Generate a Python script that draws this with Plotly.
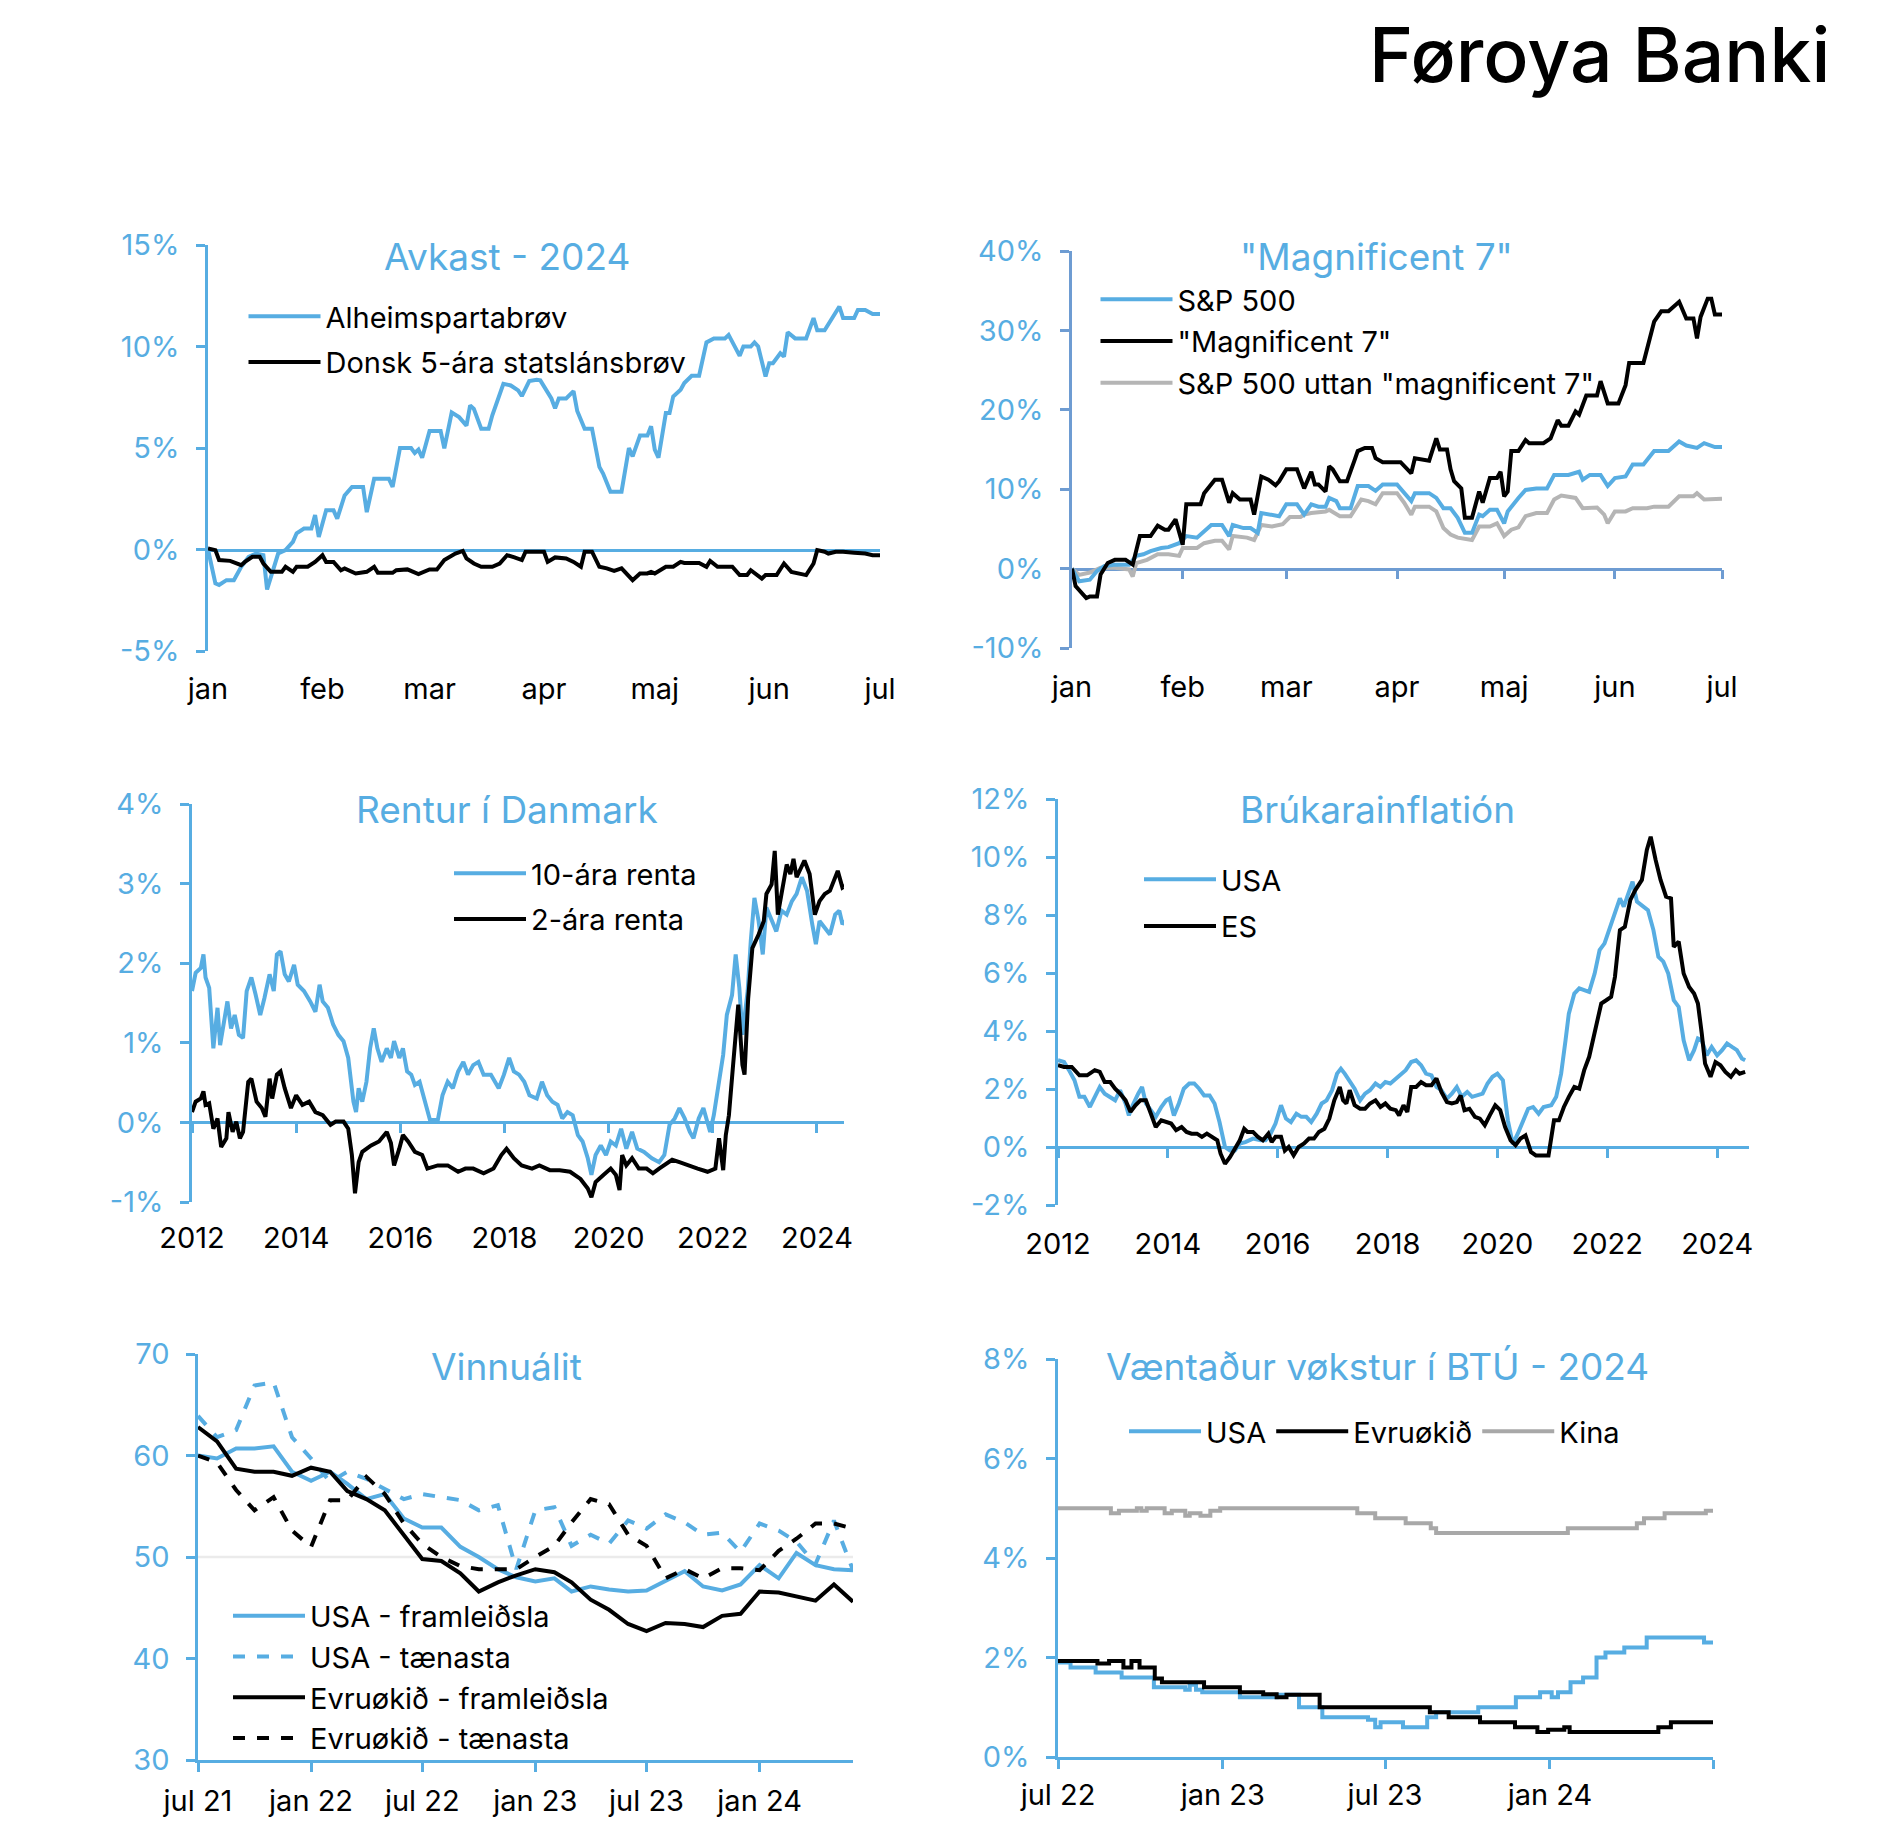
import plotly.graph_objects as go

W, H = 1888, 1848
BLUE = "#57ADE2"
STEEL = "#6E9CD2"
GREY = "#B5B5B5"
GREY_CN = "#A8A8A8"
BLACK = "#000000"
FONT = "Inter, Roboto, sans-serif"

# ---------------- Panel 1: Avkast - 2024 (day of year 2024) ----------------
p1_month_ticks = [0, 31, 60, 91, 121, 152, 182]
p1_month_labels = ["jan", "feb", "mar", "apr", "maj", "jun", "jul"]
alheims_day = [0, 2, 3, 5, 7, 9, 11, 13, 15, 16, 19, 21, 23, 24, 26, 28, 29, 30, 32, 34, 35, 37, 39, 42, 43, 45, 49, 50,
               52, 55, 56, 57, 58, 60, 63, 64, 66, 68, 70, 71, 72, 74, 76, 77, 80, 82, 84, 85, 87, 89, 90, 93, 94, 95,
               97, 99, 100, 102, 104, 106, 107, 109, 112, 114, 115, 117, 119, 120, 121, 122, 124, 125, 126, 128, 129,
               131, 133, 135, 137, 140, 141, 144, 145, 147, 148, 149, 151, 152, 153, 155, 156, 157, 159, 162, 164, 165,
               167, 169, 171, 172, 175, 176, 178, 180, 182]
alheims_val = [0.0, -1.67, -1.75, -1.51, -1.51, -0.85, -0.36, -0.2, -0.28, -1.97, -0.2, -0.03, 0.38, 0.8, 1.03, 1.03,
               1.7, 0.62, 1.93, 1.93, 1.52, 2.66, 3.08, 3.08, 1.84, 3.48, 3.48, 3.08, 5.0, 5.0, 4.75, 4.92, 4.52, 5.84,
               5.84, 4.98, 6.75, 6.52, 6.1, 7.1, 6.93, 5.95, 5.95, 6.61, 8.16, 8.08, 7.84, 7.56, 8.3, 8.36, 8.33, 7.44,
               6.95, 7.44, 7.44, 7.8, 6.82, 5.95, 5.95, 4.07, 3.74, 2.85, 2.85, 5.0, 4.59, 5.61, 5.61, 6.07, 4.92, 4.52,
               6.72, 6.72, 7.54, 7.87, 8.2, 8.56, 8.56, 10.2, 10.4, 10.4, 10.57, 9.54, 10.0, 10.0, 10.2, 10.0, 8.52,
               9.18, 9.18, 9.67, 9.5, 10.7, 10.4, 10.4, 11.4, 10.8, 10.8, 11.4, 11.97, 11.4, 11.4, 11.8, 11.8, 11.6,
               11.6]
donsk_day = [0, 2, 3, 6, 9, 10, 12, 14, 15, 17, 20, 21, 23, 24, 27, 29, 31, 32, 34, 36, 37, 40, 43, 45, 46, 50, 51, 54,
             57, 60, 62, 64, 67, 69, 70, 72, 74, 77, 79, 81, 83, 85, 86, 91, 92, 94, 97, 99, 101, 102, 104, 106, 108,
             110, 112, 115, 117, 119, 120, 121, 124, 126, 128, 129, 133, 135, 136, 138, 142, 144, 146, 147, 150, 151,
             154, 156, 158, 160, 162, 164, 165, 167, 168, 170, 172, 175, 178, 180, 182]
donsk_val = [0.05, -0.03, -0.52, -0.56, -0.77, -0.61, -0.36, -0.36, -0.69, -1.1, -1.1, -0.85, -1.1, -0.85, -0.85,
             -0.61, -0.28, -0.61, -0.61, -1.02, -0.93, -1.18, -1.1, -0.85, -1.15, -1.15, -1.02, -0.98, -1.21, -0.98,
             -0.98, -0.52, -0.2, -0.07, -0.44, -0.69, -0.85, -0.85, -0.69, -0.28, -0.39, -0.52, -0.11, -0.11, -0.61,
             -0.39, -0.44, -0.61, -0.85, -0.11, -0.11, -0.85, -0.93, -1.05, -0.93, -1.51, -1.18, -1.18, -1.1, -1.18,
             -0.85, -0.85, -0.61, -0.66, -0.66, -0.85, -0.56, -0.85, -0.85, -1.26, -1.26, -1.02, -1.43, -1.26, -1.26,
             -0.69, -1.1, -1.18, -1.26, -0.69, -0.03, -0.11, -0.2, -0.11, -0.11, -0.16, -0.2, -0.28, -0.28]

# ---------------- Panel 2: "Magnificent 7" ----------------
mag7_day = [0, 1, 4, 5, 7, 8, 10, 12, 15, 17, 19, 22, 24, 26, 27, 29, 31, 32, 36, 37, 40, 42, 44, 45, 47, 50, 51, 53,
            55, 57, 58, 60, 63, 65, 67, 68, 69, 71, 72, 73, 75, 77, 79, 80, 82, 84, 85, 87, 92, 93, 95, 96, 99, 100,
            102, 103, 105, 106, 107, 109, 110, 112, 114, 115, 117, 119, 120, 121, 122, 123, 125, 127, 128, 132, 134,
            136, 137, 139, 141, 142, 144, 147, 148, 150, 153, 155, 156, 160, 163, 165, 167, 170, 172, 174, 175, 176,
            178, 179, 180, 182]
mag7_val = [0, -2.2, -3.7, -3.5, -3.5, -0.75, 0.7, 1.1, 1.1, 0.5, 4.1, 4.1, 5.4, 4.9, 4.9, 6.2, 3.0, 8.1, 8.1, 9.5,
            11.2, 11.2, 8.3, 9.5, 8.7, 8.7, 6.8, 11.6, 11.2, 10.5, 11.0, 12.5, 12.5, 10.1, 12.2, 10.6, 10.6, 9.7, 12.9,
            12.5, 11.0, 11.0, 13.5, 14.8, 15.2, 15.2, 13.9, 13.4, 13.4, 12.9, 12.0, 13.9, 13.7, 13.6, 16.4, 15.0, 15.0,
            12.5, 11.0, 10.1, 6.4, 6.4, 9.7, 8.3, 11.4, 11.4, 12.2, 9.1, 9.7, 14.8, 14.8, 16.2, 15.8, 15.8, 16.4, 18.7,
            18.0, 18.0, 19.8, 19.4, 21.8, 21.8, 23.6, 20.8, 20.8, 23.1, 25.9, 25.9, 31.1, 32.4, 32.4, 33.6, 31.5, 31.5,
            29.0, 31.7, 34.0, 34.0, 32.0, 32.0]
spx_day = [0, 2, 5, 7, 9, 12, 16, 18, 20, 22, 25, 27, 30, 32, 35, 37, 39, 42, 44, 45, 48, 50, 52, 53, 56, 58, 60, 63,
           65, 67, 69, 71, 72, 74, 75, 78, 80, 83, 85, 87, 91, 93, 95, 96, 100, 102, 104, 106, 108, 110, 112, 114, 115,
           117, 119, 121, 122, 125, 127, 130, 133, 135, 139, 142, 143, 145, 148, 150, 152, 155, 157, 160, 163, 167,
           170, 172, 175, 177, 180, 182]
spx_val = [0, -1.6, -1.4, -0.3, 0.3, 0.5, 0.5, 1.6, 1.8, 2.2, 2.6, 2.7, 3.2, 4.1, 3.9, 4.7, 5.5, 5.5, 4.1, 5.5, 5.1,
           5.1, 4.5, 7.0, 6.8, 6.6, 8.1, 8.1, 6.8, 8.1, 7.8, 7.8, 8.9, 8.5, 7.6, 7.6, 10.4, 10.4, 9.8, 10.6, 10.6, 9.5,
           8.5, 9.5, 9.5, 8.9, 7.6, 7.6, 6.4, 4.5, 4.5, 6.8, 6.6, 7.4, 7.4, 5.7, 7.2, 8.9, 9.9, 10.1, 10.1, 11.8, 11.8,
           12.2, 11.2, 11.8, 11.8, 10.4, 11.4, 11.6, 13.1, 13.1, 14.8, 14.8, 16.0, 15.5, 15.2, 15.8, 15.3, 15.3]
exm7_day = [0, 2, 5, 8, 12, 16, 17, 18, 21, 24, 27, 30, 31, 35, 37, 40, 42, 44, 45, 49, 51, 53, 56, 59, 61, 64, 65,
            67, 71, 72, 75, 78, 81, 83, 85, 87, 91, 93, 95, 96, 100, 102, 104, 106, 108, 112, 114, 117, 119, 121, 123,
            125, 127, 130, 133, 135, 137, 141, 143, 147, 149, 150, 152, 155, 157, 161, 163, 167, 170, 174, 175, 177,
            182]
exm7_val = [0, -0.8, -0.5, 0.1, 0.1, -0.1, -1.0, 0.7, 1.1, 1.8, 1.8, 1.6, 2.6, 2.6, 3.2, 3.5, 3.5, 2.4, 4.1, 3.9, 3.6,
            5.5, 5.3, 5.6, 6.5, 6.5, 6.8, 7.0, 7.2, 7.4, 6.6, 6.6, 8.7, 8.5, 8.1, 9.5, 9.5, 8.3, 6.8, 7.8, 7.8, 7.2,
            5.1, 4.3, 3.9, 3.6, 5.3, 5.3, 5.7, 4.1, 4.9, 5.2, 6.6, 7.0, 7.0, 8.7, 9.2, 8.9, 7.6, 7.7, 6.8, 5.7, 7.2,
            7.2, 7.6, 7.6, 7.8, 7.8, 9.1, 9.1, 9.5, 8.7, 8.8]

# ---------------- Panel 3: Rentur í Danmark (decimal year) ----------------
r10_year = [2012.00, 2012.07, 2012.17, 2012.22, 2012.26, 2012.33, 2012.41, 2012.49, 2012.54, 2012.61, 2012.68, 2012.75,
            2012.82, 2012.90, 2012.98, 2013.05, 2013.14, 2013.22, 2013.31, 2013.39, 2013.49, 2013.57, 2013.63, 2013.70,
            2013.78, 2013.86, 2013.96, 2014.03, 2014.15, 2014.27, 2014.37, 2014.45, 2014.51, 2014.61, 2014.71, 2014.81,
            2014.91, 2015.00, 2015.10, 2015.15, 2015.20, 2015.27, 2015.35, 2015.42, 2015.49, 2015.56, 2015.64, 2015.74,
            2015.82, 2015.88, 2015.98, 2016.05, 2016.13, 2016.21, 2016.28, 2016.37, 2016.47, 2016.57, 2016.72, 2016.81,
            2016.91, 2017.01, 2017.11, 2017.21, 2017.30, 2017.40, 2017.50, 2017.60, 2017.74, 2017.89, 2017.99, 2018.09,
            2018.18, 2018.28, 2018.38, 2018.48, 2018.62, 2018.72, 2018.82, 2018.92, 2019.02, 2019.11, 2019.21, 2019.31,
            2019.41, 2019.50, 2019.60, 2019.67, 2019.75, 2019.85, 2019.95, 2020.04, 2020.14, 2020.24, 2020.34, 2020.45,
            2020.55, 2020.68, 2020.83, 2020.97, 2021.07, 2021.17, 2021.27, 2021.36, 2021.46, 2021.56, 2021.63, 2021.73,
            2021.82, 2021.95, 2022.02, 2022.10, 2022.20, 2022.27, 2022.37, 2022.44, 2022.51, 2022.57, 2022.67, 2022.73,
            2022.80, 2022.88, 2022.96, 2023.03, 2023.13, 2023.22, 2023.32, 2023.42, 2023.52, 2023.61, 2023.71, 2023.81,
            2023.91, 2023.98, 2024.05, 2024.15, 2024.25, 2024.35, 2024.43, 2024.49, 2024.54]
r10_val = [1.65, 1.88, 1.94, 2.11, 1.82, 1.69, 0.93, 1.44, 0.97, 1.27, 1.52, 1.18, 1.35, 1.10, 1.06, 1.65, 1.82, 1.61,
           1.35, 1.56, 1.86, 1.65, 2.11, 2.15, 1.86, 1.77, 1.98, 1.73, 1.65, 1.52, 1.39, 1.73, 1.52, 1.44, 1.23, 1.10,
           1.02, 0.81, 0.26, 0.13, 0.43, 0.26, 0.51, 0.93, 1.18, 0.93, 0.76, 0.93, 0.81, 1.02, 0.81, 0.93, 0.64, 0.60,
           0.47, 0.51, 0.26, 0.03, 0.03, 0.34, 0.51, 0.43, 0.64, 0.76, 0.60, 0.72, 0.76, 0.60, 0.60, 0.43, 0.60, 0.81,
           0.64, 0.60, 0.51, 0.34, 0.30, 0.51, 0.34, 0.26, 0.22, 0.05, 0.13, 0.09, -0.16, -0.24, -0.45, -0.66, -0.41,
           -0.29, -0.41, -0.24, -0.29, -0.08, -0.33, -0.12, -0.33, -0.37, -0.45, -0.50, -0.41, -0.03, 0.05, 0.18, 0.05,
           -0.12, -0.20, 0.05, 0.18, -0.12, 0.09, 0.43, 0.85, 1.35, 1.60, 2.11, 1.69, 1.10, 1.65, 2.28, 2.82, 2.53,
           2.11, 2.70, 2.53, 2.40, 2.66, 2.61, 2.78, 2.87, 3.08, 2.91, 2.49, 2.24, 2.53, 2.45, 2.36, 2.61, 2.66, 2.49,
           2.53]
r2_year = [2012.00, 2012.07, 2012.17, 2012.22, 2012.26, 2012.33, 2012.41, 2012.49, 2012.56, 2012.66, 2012.70, 2012.78,
           2012.85, 2012.92, 2012.98, 2013.08, 2013.14, 2013.24, 2013.34, 2013.41, 2013.49, 2013.54, 2013.63, 2013.70,
           2013.78, 2013.90, 2014.00, 2014.12, 2014.25, 2014.37, 2014.51, 2014.66, 2014.76, 2014.91, 2015.00, 2015.07,
           2015.13, 2015.20, 2015.27, 2015.35, 2015.44, 2015.59, 2015.74, 2015.82, 2015.88, 2015.98, 2016.05, 2016.15,
           2016.28, 2016.42, 2016.52, 2016.72, 2016.91, 2017.11, 2017.25, 2017.40, 2017.60, 2017.79, 2017.94, 2018.04,
           2018.18, 2018.33, 2018.53, 2018.67, 2018.87, 2019.06, 2019.26, 2019.46, 2019.60, 2019.67, 2019.75, 2019.90,
           2020.04, 2020.14, 2020.21, 2020.26, 2020.34, 2020.45, 2020.58, 2020.73, 2020.85, 2020.97, 2021.12, 2021.22,
           2021.36, 2021.51, 2021.71, 2021.90, 2022.05, 2022.12, 2022.20, 2022.25, 2022.31, 2022.39, 2022.49, 2022.57,
           2022.61, 2022.68, 2022.76, 2022.88, 2022.98, 2023.03, 2023.13, 2023.19, 2023.25, 2023.32, 2023.42, 2023.49,
           2023.55, 2023.61, 2023.76, 2023.86, 2023.96, 2024.05, 2024.15, 2024.25, 2024.40, 2024.49, 2024.54]
r2_val = [0.13, 0.26, 0.30, 0.39, 0.22, 0.24, -0.08, 0.05, -0.31, -0.20, 0.13, -0.12, 0.01, -0.20, -0.12, 0.51, 0.55,
          0.26, 0.18, 0.07, 0.55, 0.30, 0.60, 0.64, 0.43, 0.18, 0.34, 0.22, 0.26, 0.13, 0.09, -0.03, 0.01, 0.01, -0.08,
          -0.41, -0.89, -0.50, -0.37, -0.33, -0.29, -0.24, -0.12, -0.26, -0.54, -0.33, -0.16, -0.24, -0.37, -0.41,
          -0.58, -0.54, -0.54, -0.62, -0.58, -0.58, -0.64, -0.58, -0.41, -0.33, -0.45, -0.54, -0.58, -0.54, -0.60,
          -0.60, -0.62, -0.71, -0.83, -0.94, -0.75, -0.66, -0.58, -0.66, -0.85, -0.41, -0.54, -0.45, -0.58, -0.58,
          -0.64, -0.58, -0.52, -0.47, -0.50, -0.54, -0.58, -0.62, -0.58, -0.20, -0.60, -0.16, 0.09, 0.72, 1.48, 0.72,
          0.60, 1.56, 2.19, 2.36, 2.53, 2.87, 2.99, 3.41, 2.61, 2.87, 3.24, 3.12, 3.31, 3.08, 3.29, 3.12, 2.61, 2.78,
          2.87, 2.91, 3.16, 2.95, 2.97]

# ---------------- Panel 4: Brúkarainflatión (decimal year) ----------------
cpi_us_year = [2012.00, 2012.11, 2012.20, 2012.30, 2012.39, 2012.48, 2012.58, 2012.67, 2012.76, 2012.85, 2012.95,
               2013.04, 2013.13, 2013.23, 2013.29, 2013.36, 2013.46, 2013.53, 2013.60, 2013.69, 2013.78, 2013.88,
               2013.97, 2014.03, 2014.11, 2014.20, 2014.29, 2014.39, 2014.48, 2014.57, 2014.66, 2014.76, 2014.85,
               2014.94, 2015.04, 2015.13, 2015.22, 2015.31, 2015.41, 2015.55, 2015.69, 2015.78, 2015.87, 2015.96,
               2016.06, 2016.15, 2016.24, 2016.34, 2016.43, 2016.52, 2016.61, 2016.71, 2016.80, 2016.89, 2016.99,
               2017.08, 2017.15, 2017.22, 2017.31, 2017.40, 2017.50, 2017.59, 2017.68, 2017.78, 2017.87, 2017.96,
               2018.05, 2018.15, 2018.24, 2018.33, 2018.43, 2018.52, 2018.61, 2018.70, 2018.80, 2018.89, 2018.98,
               2019.08, 2019.17, 2019.26, 2019.35, 2019.45, 2019.54, 2019.63, 2019.73, 2019.82, 2019.91, 2020.00,
               2020.10, 2020.19, 2020.28, 2020.37, 2020.47, 2020.56, 2020.65, 2020.75, 2020.84, 2020.98, 2021.07,
               2021.16, 2021.24, 2021.30, 2021.40, 2021.49, 2021.58, 2021.67, 2021.77, 2021.86, 2021.95, 2022.05,
               2022.14, 2022.23, 2022.30, 2022.39, 2022.46, 2022.54, 2022.65, 2022.74, 2022.84, 2022.93, 2023.02,
               2023.11, 2023.21, 2023.30, 2023.39, 2023.49, 2023.58, 2023.65, 2023.72, 2023.81, 2023.90, 2024.00,
               2024.09, 2024.18, 2024.27, 2024.36, 2024.45, 2024.51]
cpi_us_val = [2.99, 2.93, 2.65, 2.30, 1.73, 1.73, 1.38, 1.73, 2.07, 1.84, 1.73, 1.61, 1.96, 1.50, 1.09, 1.44, 1.84,
              2.07, 1.50, 1.27, 1.04, 1.38, 1.61, 1.67, 1.09, 1.50, 2.01, 2.19, 2.19, 2.01, 1.78, 1.78, 1.50, 0.86,
              0.00, -0.12, -0.12, 0.12, 0.17, 0.29, 0.23, 0.23, 0.46, 0.81, 1.44, 0.98, 0.86, 1.15, 1.04, 1.04, 0.86,
              1.15, 1.50, 1.61, 1.96, 2.53, 2.70, 2.53, 2.24, 2.01, 1.61, 1.84, 1.96, 2.19, 2.07, 2.24, 2.19, 2.36,
              2.53, 2.65, 2.93, 2.99, 2.82, 2.53, 2.47, 2.07, 1.96, 1.67, 1.84, 2.07, 1.73, 1.90, 1.73, 1.78, 1.84,
              2.19, 2.42, 2.53, 2.30, 0.92, 0.10, 0.46, 0.92, 1.32, 1.38, 1.15, 1.38, 1.44, 1.73, 2.53, 3.68, 4.60,
              5.29, 5.47, 5.41, 5.35, 5.98, 6.79, 7.02, 7.59, 8.06, 8.57, 8.29, 8.80, 9.15, 8.46, 8.29, 8.17, 7.48,
              6.56, 6.39, 5.98, 5.06, 4.83, 3.68, 2.99, 3.34, 3.74, 3.68, 3.16, 3.45, 3.16, 3.34, 3.57, 3.45, 3.34,
              3.05, 2.99]
cpi_es_year = [2012.00, 2012.11, 2012.25, 2012.39, 2012.53, 2012.67, 2012.76, 2012.85, 2012.95, 2013.04, 2013.13,
               2013.23, 2013.32, 2013.41, 2013.50, 2013.60, 2013.69, 2013.78, 2013.88, 2013.97, 2014.06, 2014.15,
               2014.25, 2014.34, 2014.43, 2014.53, 2014.62, 2014.71, 2014.80, 2014.90, 2014.96, 2015.04, 2015.13,
               2015.22, 2015.31, 2015.39, 2015.45, 2015.55, 2015.64, 2015.73, 2015.83, 2015.89, 2015.96, 2016.06,
               2016.13, 2016.20, 2016.29, 2016.38, 2016.48, 2016.57, 2016.66, 2016.75, 2016.85, 2016.94, 2017.03,
               2017.13, 2017.19, 2017.25, 2017.31, 2017.40, 2017.50, 2017.59, 2017.68, 2017.78, 2017.87, 2017.96,
               2018.05, 2018.15, 2018.21, 2018.29, 2018.36, 2018.43, 2018.52, 2018.61, 2018.70, 2018.80, 2018.89,
               2018.98, 2019.08, 2019.17, 2019.26, 2019.33, 2019.40, 2019.49, 2019.59, 2019.68, 2019.77, 2019.86,
               2019.96, 2020.05, 2020.14, 2020.24, 2020.33, 2020.42, 2020.51, 2020.61, 2020.70, 2020.93, 2021.03,
               2021.12, 2021.21, 2021.30, 2021.40, 2021.49, 2021.58, 2021.67, 2021.77, 2021.89, 2021.98, 2022.07,
               2022.14, 2022.23, 2022.32, 2022.42, 2022.51, 2022.63, 2022.72, 2022.79, 2022.88, 2022.97, 2023.07,
               2023.16, 2023.21, 2023.30, 2023.39, 2023.49, 2023.58, 2023.65, 2023.72, 2023.78, 2023.88, 2023.97,
               2024.06, 2024.15, 2024.25, 2024.34, 2024.41, 2024.51]
cpi_es_val = [2.82, 2.76, 2.76, 2.47, 2.47, 2.65, 2.59, 2.24, 2.24, 2.01, 1.84, 1.61, 1.21, 1.44, 1.61, 1.61, 1.15,
              0.69, 0.92, 0.86, 0.81, 0.58, 0.69, 0.52, 0.46, 0.46, 0.35, 0.46, 0.35, 0.23, -0.23, -0.58, -0.35, -0.06,
              0.23, 0.63, 0.52, 0.52, 0.35, 0.23, 0.46, 0.17, 0.35, 0.35, -0.12, 0.00, -0.29, 0.00, 0.12, 0.29, 0.29,
              0.52, 0.63, 0.98, 1.61, 2.07, 1.61, 1.50, 1.96, 1.44, 1.32, 1.32, 1.50, 1.61, 1.38, 1.50, 1.32, 1.27,
              1.09, 1.44, 1.21, 2.07, 2.07, 2.24, 2.13, 2.13, 2.36, 1.90, 1.55, 1.50, 1.55, 1.78, 1.27, 1.32, 1.04,
              0.98, 0.75, 1.09, 1.44, 1.27, 0.69, 0.23, 0.06, 0.29, 0.40, -0.17, -0.29, -0.29, 0.92, 0.92, 1.38, 1.73,
              2.07, 2.01, 2.65, 3.11, 3.91, 4.95, 5.06, 5.18, 5.87, 7.48, 7.59, 8.52, 8.86, 9.21, 10.24, 10.70, 9.90,
              9.21, 8.63, 8.57, 6.90, 7.08, 5.98, 5.52, 5.29, 4.95, 3.91, 2.88, 2.42, 2.93, 2.82, 2.59, 2.42, 2.65,
              2.53, 2.59]

# ---------------- Panel 5: Vinnuálit (monthly PMI, jul 2021 - jun 2024) ----------------
pmi_months = ["2021-07-01", "2021-08-01", "2021-09-01", "2021-10-01", "2021-11-01", "2021-12-01",
              "2022-01-01", "2022-02-01", "2022-03-01", "2022-04-01", "2022-05-01", "2022-06-01",
              "2022-07-01", "2022-08-01", "2022-09-01", "2022-10-01", "2022-11-01", "2022-12-01",
              "2023-01-01", "2023-02-01", "2023-03-01", "2023-04-01", "2023-05-01", "2023-06-01",
              "2023-07-01", "2023-08-01", "2023-09-01", "2023-10-01", "2023-11-01", "2023-12-01",
              "2024-01-01", "2024-02-01", "2024-03-01", "2024-04-01", "2024-05-01", "2024-06-01"]
pmi_us_mfg = [60.0, 59.7, 60.7, 60.7, 60.9, 58.4, 57.5, 58.4, 57.2, 55.7, 56.2, 53.8, 52.9, 52.9, 51.0, 50.0, 48.8,
              48.0, 47.6, 47.9, 46.6, 47.1, 46.8, 46.6, 46.7, 47.6, 48.6, 47.1, 46.7, 47.3, 49.2, 47.9, 50.4, 49.2,
              48.8, 48.7]
pmi_us_srv = [63.9, 61.8, 62.5, 66.9, 67.2, 61.8, 59.7, 57.4, 58.4, 57.7, 56.7, 55.7, 56.2, 55.9, 55.6, 54.6, 55.1,
              48.8, 54.6, 54.9, 51.1, 52.2, 51.3, 53.6, 52.8, 54.2, 53.4, 52.2, 52.4, 50.5, 53.3, 52.6, 51.5, 49.3,
              53.6, 48.7]
pmi_ez_mfg = [62.8, 61.4, 58.7, 58.4, 58.4, 58.0, 58.8, 58.4, 56.5, 55.7, 54.6, 52.1, 49.8, 49.6, 48.4, 46.6, 47.5,
              48.2, 48.8, 48.5, 47.5, 45.8, 44.8, 43.4, 42.7, 43.5, 43.4, 43.1, 44.2, 44.4, 46.6, 46.5, 46.1, 45.7,
              47.3, 45.6]
pmi_ez_srv = [60.0, 59.3, 56.6, 54.6, 55.9, 52.6, 51.0, 55.6, 55.6, 57.9, 56.2, 53.3, 51.3, 50.0, 49.1, 48.8, 48.8,
              48.8, 50.0, 51.1, 53.4, 55.7, 55.2, 52.2, 51.1, 47.9, 48.8, 47.9, 48.9, 48.9, 48.7, 50.6, 51.8, 53.3,
              53.3, 52.8]
pmi_ticks = ["2021-07-01", "2022-01-01", "2022-07-01", "2023-01-01", "2023-07-01", "2024-01-01"]
pmi_tick_labels = ["jul 21", "jan 22", "jul 22", "jan 23", "jul 23", "jan 24"]

# ---------------- Panel 6: Væntaður vøkstur í BTÚ - 2024 (step series) ----------------
gdp_us_date = ["2022-07-01", "2022-07-15", "2022-08-12", "2022-09-10", "2022-10-16", "2022-11-20", "2022-11-25",
               "2022-12-02", "2022-12-09", "2023-01-20", "2023-03-02", "2023-03-27", "2023-04-22", "2023-06-12",
               "2023-06-20", "2023-06-26", "2023-07-21", "2023-08-17", "2023-08-27", "2023-10-13", "2023-11-24",
               "2023-12-21", "2024-01-03", "2024-01-10", "2024-01-24", "2024-02-07", "2024-02-22", "2024-03-03",
               "2024-03-24", "2024-04-18", "2024-06-21", "2024-07-01"]
gdp_us_val = [1.9, 1.8, 1.7, 1.6, 1.4, 1.35, 1.45, 1.35, 1.3, 1.2, 1.25, 1.0, 0.8, 0.75, 0.6, 0.7, 0.6, 0.8, 0.9, 1.0,
              1.2, 1.3, 1.2, 1.3, 1.5, 1.6, 2.0, 2.1, 2.2, 2.4, 2.3, 2.3]
gdp_ez_date = ["2022-07-01", "2022-08-14", "2022-08-27", "2022-09-12", "2022-09-21", "2022-09-30", "2022-10-17",
               "2022-10-25", "2022-12-11", "2023-01-20", "2023-02-15", "2023-03-02", "2023-03-13", "2023-04-19",
               "2023-08-20", "2023-09-10", "2023-10-15", "2023-11-23", "2023-12-18", "2023-12-30", "2024-01-17",
               "2024-01-23", "2024-05-01", "2024-05-15", "2024-07-01"]
gdp_ez_val = [1.93, 1.88, 1.93, 1.8, 1.93, 1.8, 1.58, 1.5, 1.4, 1.3, 1.26, 1.2, 1.25, 1.0, 0.9, 0.8, 0.7, 0.6, 0.5,
              0.55, 0.6, 0.5, 0.6, 0.7, 0.7]
gdp_cn_date = ["2022-07-01", "2022-08-29", "2022-09-07", "2022-09-27", "2022-10-02", "2022-10-08", "2022-10-28",
               "2022-11-05", "2022-11-20", "2022-11-25", "2022-12-07", "2022-12-18", "2022-12-29", "2023-05-31",
               "2023-06-20", "2023-07-24", "2023-08-21", "2023-08-27", "2024-01-21", "2024-04-07", "2024-04-15",
               "2024-05-08", "2024-06-23", "2024-07-01"]
gdp_cn_val = [5.0, 4.9, 4.95, 5.0, 4.95, 5.0, 4.9, 4.95, 4.85, 4.9, 4.85, 4.95, 5.0, 4.9, 4.8, 4.7, 4.6, 4.5, 4.6,
              4.7, 4.8, 4.9, 4.95, 4.95]
gdp_ticks = ["2022-07-01", "2023-01-01", "2023-07-01", "2024-01-01", "2024-07-01"]
gdp_tick_labels = ["jul 22", "jan 23", "jul 23", "jan 24", ""]

# ---------------- Layout geometry (pixels in the 1888 x 1848 page) ----------------
panels = {
    1: dict(px=(200, 872), py=(237, 643), yr=(-5, 15), ytv=[-5, 0, 5, 10, 15],
            ytt=["-5%", "0%", "5%", "10%", "15%"], axcol=BLUE, title="Avkast - 2024", tx=499, ty=249),
    2: dict(px=(1064, 1714), py=(243, 640), yr=(-10, 40), ytv=[-10, 0, 10, 20, 30, 40],
            ytt=["-10%", "0%", "10%", "20%", "30%", "40%"], axcol=STEEL, title='"Magnificent 7"', tx=1368, ty=249),
    3: dict(px=(184, 836), py=(796, 1194), yr=(-1, 4), ytv=[-1, 0, 1, 2, 3, 4],
            ytt=["-1%", "0%", "1%", "2%", "3%", "4%"], axcol=BLUE, title="Rentur í Danmark", tx=499, ty=802),
    4: dict(px=(1050, 1741), py=(791, 1197), yr=(-2, 12), ytv=[-2, 0, 2, 4, 6, 8, 10, 12],
            ytt=["-2%", "0%", "2%", "4%", "6%", "8%", "10%", "12%"], axcol=BLUE, title="Brúkarainflatión",
            tx=1369, ty=802),
    5: dict(px=(190, 845), py=(1346, 1752), yr=(30, 70), ytv=[30, 40, 50, 60, 70],
            ytt=["30", "40", "50", "60", "70"], axcol=BLUE, title="Vinnuálit", tx=498, ty=1358),
    6: dict(px=(1050, 1705), py=(1351, 1749), yr=(0, 8), ytv=[0, 2, 4, 6, 8],
            ytt=["0%", "2%", "4%", "6%", "8%"], axcol=BLUE, title="Væntaður vøkstur í BTÚ - 2024",
            tx=1369, ty=1358),
}

fig = go.Figure()
LW = 4


def add(i, x, y, name, color, dash="solid", shape="linear", legend="legend", rank=1000):
    fig.add_trace(go.Scatter(x=x, y=y, name=name, mode="lines",
                             line=dict(color=color, width=LW, dash=dash, shape=shape),
                             xaxis=f"x{i}", yaxis=f"y{i}", legend=legend, legendrank=rank,
                             legendgroup=f"{legend}-{rank}", showlegend=True))


add(1, alheims_day, alheims_val, "Alheimspartabrøv", BLUE, legend="legend", rank=1)
add(1, donsk_day, donsk_val, "Donsk 5-ára statslánsbrøv", BLACK, legend="legend", rank=2)
add(2, exm7_day, exm7_val, 'S&P 500 uttan "magnificent 7"', GREY, legend="legend2", rank=3)
add(2, spx_day, spx_val, "S&P 500", BLUE, legend="legend2", rank=1)
add(2, mag7_day, mag7_val, '"Magnificent 7"', BLACK, legend="legend2", rank=2)
add(3, r10_year, r10_val, "10-ára renta", BLUE, legend="legend3", rank=1)
add(3, r2_year, r2_val, "2-ára renta", BLACK, legend="legend3", rank=2)
add(4, cpi_us_year, cpi_us_val, "USA", BLUE, legend="legend4", rank=1)
add(4, cpi_es_year, cpi_es_val, "ES", BLACK, legend="legend4", rank=2)
add(5, pmi_months, pmi_us_mfg, "USA - framleiðsla", BLUE, legend="legend5", rank=1)
add(5, pmi_months, pmi_us_srv, "USA - tænasta", BLUE, dash="dash", legend="legend5", rank=2)
add(5, pmi_months, pmi_ez_mfg, "Evruøkið - framleiðsla", BLACK, legend="legend5", rank=3)
add(5, pmi_months, pmi_ez_srv, "Evruøkið - tænasta", BLACK, dash="dash", legend="legend5", rank=4)
add(6, gdp_cn_date, gdp_cn_val, "Kina", GREY_CN, shape="hv", legend="legend6", rank=3)
add(6, gdp_us_date, gdp_us_val, "USA", BLUE, shape="hv", legend="legend6", rank=1)
add(6, gdp_ez_date, gdp_ez_val, "Evruøkið", BLACK, shape="hv", legend="legend6", rank=2)

TICKFONT = 29
layout = {}
annotations = []
for i, p in panels.items():
    xd = [p["px"][0] / W, p["px"][1] / W]
    yd = [1 - p["py"][1] / H, 1 - p["py"][0] / H]
    y0, y1 = p["yr"]
    zero_frac = yd[0] + (0 - y0) / (y1 - y0) * (yd[1] - yd[0])
    layout[f"yaxis{i}"] = dict(
        domain=yd, range=list(p["yr"]), anchor=f"x{i}", showline=True, linecolor=p["axcol"], linewidth=2.5,
        ticks="outside", ticklen=9, tickwidth=2.5, tickcolor=p["axcol"], tickvals=p["ytv"], ticktext=p["ytt"],
        tickfont=dict(color=BLUE, size=TICKFONT, family=FONT), showgrid=False, zeroline=False,
        ticklabelstandoff=11, fixedrange=True, automargin=False)
    annotations.append(dict(text=p["title"], x=p["tx"] / W, y=1 - p["ty"] / H, xref="paper", yref="paper",
                            xanchor="center", yanchor="middle", showarrow=False,
                            font=dict(color=BLUE, size=37, family=FONT)))
    p["zero_frac"] = zero_frac
    p["xd"] = xd

common_x = dict(showline=True, linewidth=2.5, showgrid=False, zeroline=False, tickwidth=2.5,
                tickfont=dict(color=BLACK, size=TICKFONT, family=FONT), fixedrange=True, automargin=False)

layout["xaxis1"] = dict(common_x, domain=panels[1]["xd"], range=[0, 182], anchor="free",
                        position=panels[1]["zero_frac"], linecolor=BLUE, ticks="", tickvals=p1_month_ticks,
                        ticktext=p1_month_labels, ticklabelstandoff=113, layer="below traces")
layout["xaxis2"] = dict(common_x, domain=panels[2]["xd"], range=[0, 182], anchor="free",
                        position=panels[2]["zero_frac"], linecolor=STEEL, tickcolor=STEEL, ticks="outside",
                        ticklen=9, tickvals=p1_month_ticks, ticktext=p1_month_labels, ticklabelstandoff=83,
                        layer="below traces")
layout["xaxis3"] = dict(common_x, domain=panels[3]["xd"], range=[2012, 2024.52], anchor="free",
                        position=panels[3]["zero_frac"], linecolor=BLUE, tickcolor=BLUE, ticks="outside",
                        ticklen=9, tickvals=[2012, 2014, 2016, 2018, 2020, 2022, 2024],
                        ticktext=["2012", "2014", "2016", "2018", "2020", "2022", "2024"],
                        ticklabelstandoff=80, layer="below traces")
layout["xaxis4"] = dict(common_x, domain=panels[4]["xd"], range=[2012, 2024.58], anchor="free",
                        position=panels[4]["zero_frac"], linecolor=BLUE, tickcolor=BLUE, ticks="outside",
                        ticklen=9, tickvals=[2012, 2014, 2016, 2018, 2020, 2022, 2024],
                        ticktext=["2012", "2014", "2016", "2018", "2020", "2022", "2024"],
                        ticklabelstandoff=61, layer="below traces")
layout["xaxis5"] = dict(common_x, domain=panels[5]["xd"], range=["2021-07-01", "2024-06-01"], anchor="y5",
                        linecolor=BLUE, tickcolor=BLUE, ticks="outside", ticklen=9, tickvals=pmi_ticks,
                        ticktext=pmi_tick_labels, ticklabelstandoff=4, type="date")
layout["xaxis6"] = dict(common_x, domain=panels[6]["xd"], range=["2022-07-01", "2024-07-01"], anchor="y6",
                        linecolor=BLUE, tickcolor=BLUE, ticks="outside", ticklen=9, tickvals=gdp_ticks,
                        ticktext=gdp_tick_labels, ticklabelstandoff=1, type="date")

legfont = dict(color=BLACK, size=29, family=FONT)
leg_common = dict(font=legfont, bgcolor="rgba(0,0,0,0)", borderwidth=0, xanchor="left", yanchor="top",
                  itemwidth=72, traceorder="grouped")
layout["legend"] = dict(leg_common, x=235.5 / W, y=1 - 283 / H, tracegroupgap=5)
layout["legend2"] = dict(leg_common, x=1087.5 / W, y=1 - 266 / H, tracegroupgap=1)
layout["legend3"] = dict(leg_common, x=441 / W, y=1 - 840 / H, tracegroupgap=5)
layout["legend4"] = dict(leg_common, x=1131 / W, y=1 - 846 / H, tracegroupgap=6)
layout["legend5"] = dict(leg_common, x=220 / W, y=1 - 1582.5 / H, tracegroupgap=0)
layout["legend6"] = dict(leg_common, x=1116 / W, y=1 - 1398 / H, orientation="h", tracegroupgap=13)

annotations.append(dict(text="Føroya Banki", x=1822.5 / W, y=1.0, xref="paper", yref="paper",
                        xanchor="right", yanchor="top", showarrow=False, borderpad=0,
                        font=dict(color=BLACK, size=75, family=FONT, weight=500)))

# 50-line in the PMI panel
fig.add_hline(y=50, line=dict(color="#EBEBEB", width=2.5), xref="x5", yref="y5", layer="below")

fig.update_layout(width=W, height=H, margin=dict(l=0, r=0, t=0, b=0, autoexpand=False), paper_bgcolor="white",
                  plot_bgcolor="white", font=dict(family=FONT, color=BLACK), annotations=annotations,
                  **layout)

fig.write_html("out.html")
